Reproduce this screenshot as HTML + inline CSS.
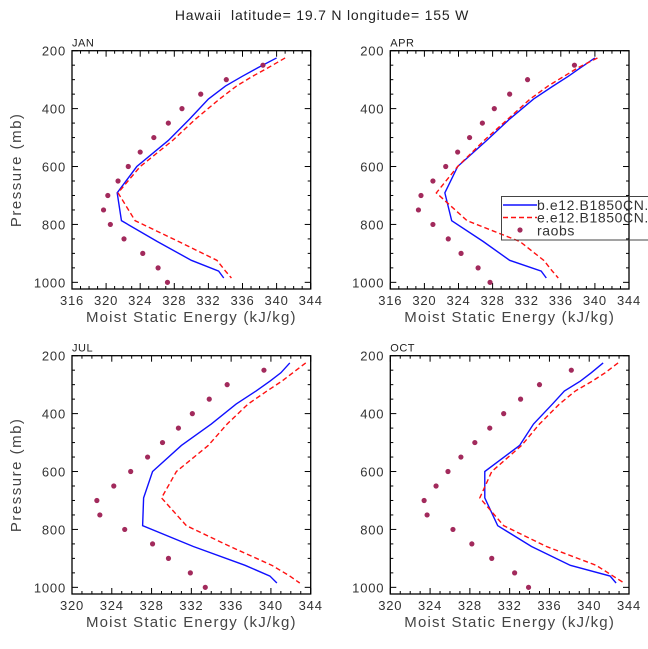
<!DOCTYPE html>
<html><head><meta charset="utf-8"><style>
html,body{margin:0;padding:0;background:#fff;}
svg{display:block;font-family:"Liberation Sans",sans-serif;}
</style></head><body>
<svg id="chart" width="648" height="649" viewBox="0 0 648 649" xmlns="http://www.w3.org/2000/svg">
<text x="322" y="20" font-size="14" text-anchor="middle" fill="#222" letter-spacing="0.8" style="white-space:pre">Hawaii  latitude= 19.7 N longitude= 155 W</text>
</svg>
<script>
const modelLevels=[225,259,288,322,367,436,510,600,691,787,859,924,961,985];
const obsLevels=[250,300,350,400,450,500,550,600,650,700,750,800,850,900,950,1000];
const pressureTicks=[200,400,600,800,1000];
const janBlue=[340,337.8,336,334,332,329.8,327.3,323.6,321.3,321.8,326,330,333.2,333.8];
const janRed=[341,339,337.2,335.3,333.3,330.5,327.8,324,321.4,323.4,328.5,333,334,334.7];
const janObs=[338.4,334.1,331.1,328.9,327.3,325.6,324.0,322.6,321.4,320.2,319.7,320.5,322.1,324.3,326.1,327.2];
const aprBlue=[340,338.3,336.9,335.1,332.8,330,327.3,323.9,322.4,323.2,326.9,330,333.7,334.3];
const aprRed=[340.3,338,336.4,334.5,332.4,329.8,327,323.9,321.4,325,331.2,334,335,335.7];
const aprObs=[337.6,332.1,330.0,328.2,326.8,325.3,323.9,322.5,321.0,319.6,319.3,321.0,322.8,324.3,326.3,327.7];
const julBlue=[341.9,341,339.9,338.5,336.5,334,331,328.1,327.2,327.1,332.2,337.4,339.9,340.6];
const julRed=[343.5,342.2,341.1,339.6,337.7,335.6,333.7,330.5,329,331.5,335.9,340.1,341.9,342.9];
const julObs=[339.3,335.6,333.8,332.1,330.7,329.1,327.6,325.9,324.2,322.5,322.8,325.3,328.1,329.7,331.9,333.4];
const octBlue=[341.4,340.2,339.1,337.5,336.3,334.4,333,329.5,329.5,330.8,334.2,338.1,342.1,342.7];
const octRed=[342.9,341.6,340.3,338.6,337,335,333.2,330.2,329,331.4,335.7,340.7,342.4,343.5];
const octObs=[338.2,335.0,333.1,331.4,330.0,328.5,327.1,325.8,324.6,323.4,323.7,326.3,328.2,330.2,332.5,333.9];
const xTicksA=[316,320,324,328,332,336,340,344];
const xTicksB=[320,324,328,332,336,340,344];

const NS='http://www.w3.org/2000/svg';
const svg=document.getElementById('chart');
function mk(tag,attrs,parent){const e=document.createElementNS(NS,tag);for(const k in attrs)e.setAttribute(k,attrs[k]);(parent||svg).appendChild(e);return e;}

function panel(key,label,L,T,xTicks,blue,red,obs,showY){
  const R=L+238.7, B=T+238.3;
  const xmin=xTicks[0], xmax=xTicks[xTicks.length-1];
  const pTop=200, pBot=1023;
  const xs=v=>L+(v-xmin)/(xmax-xmin)*(R-L);
  const ys=p=>T+(p-pTop)/(pBot-pTop)*(B-T);
  const g=mk('g',{});
  
  
  for(let v=xmin;v<=xmax;v++){
    const major=(v-xmin)%4===0, len=major?6:3, x=xs(v);
    mk('line',{x1:x,y1:B,x2:x,y2:B-len,stroke:'#000','stroke-width':1},g);
    mk('line',{x1:x,y1:T,x2:x,y2:T+len,stroke:'#000','stroke-width':1},g);
  }
  for(let p=200;p<=1000;p+=50){
    const major=p%200===0, len=major?6:3, y=ys(p);
    mk('line',{x1:L,y1:y,x2:L+len,y2:y,stroke:'#000','stroke-width':1},g);
    mk('line',{x1:R,y1:y,x2:R-len,y2:y,stroke:'#000','stroke-width':1},g);
  }
  const fr=mk('rect',{x:L,y:T,width:R-L,height:B-T,fill:'none',stroke:'#000','stroke-width':1.3},g);
  
  
  xTicks.forEach(v=>{
    const t=mk('text',{x:xs(v),y:B+16,'font-size':13,'text-anchor':'middle',fill:'#333','letter-spacing':0.8},g);
    
    
    t.textContent=v;
  });
  pressureTicks.forEach(p=>{
    const t=mk('text',{x:L-6,y:ys(p)+5,'font-size':13,'text-anchor':'end',fill:'#333','letter-spacing':0.8},g);
    
    
    t.textContent=p;
  });
  const tt=mk('text',{x:L,y:T-4,'font-size':11,fill:'#222','letter-spacing':0.5},g);
  
  
  tt.textContent=label;
  const xt=mk('text',{x:(L+R)/2,y:B+33,'font-size':15,'text-anchor':'middle',fill:'#444','letter-spacing':1.2},g);
  
  
  xt.textContent='Moist Static Energy (kJ/kg)';
  if(showY){
    const yt=mk('text',{x:0,y:0,'font-size':15,'text-anchor':'middle',fill:'#444','letter-spacing':1.5,transform:`translate(21,${(T+B)/2}) rotate(-90)`},g);
    
    
    yt.textContent='Pressure (mb)';
  }
  const bl=mk('polyline',{points:modelLevels.map((p,i)=>xs(blue[i])+','+ys(p)).join(' '),fill:'none',stroke:'#1010ff','stroke-width':1.4},g);
  
  
  const rl=mk('polyline',{points:modelLevels.map((p,i)=>xs(red[i])+','+ys(p)).join(' '),fill:'none',stroke:'#ff1010','stroke-width':1.4,'stroke-dasharray':'5,3'},g);
  
  
  obsLevels.forEach((p,i)=>{
    const c=mk('circle',{cx:xs(obs[i]),cy:ys(p),r:2.6,fill:'#a22a5c'},g);
    
    
  });
}
panel('jan','JAN',72,50.7,xTicksA,janBlue,janRed,janObs,true);
panel('apr','APR',390.3,50.7,xTicksA,aprBlue,aprRed,aprObs,false);
panel('jul','JUL',72,355.7,xTicksB,julBlue,julRed,julObs,true);
panel('oct','OCT',390.3,355.7,xTicksB,octBlue,octRed,octObs,false);

const lg=mk('g',{});


mk('rect',{x:501.5,y:196.5,width:160,height:43.5,fill:'none',stroke:'#444','stroke-width':1},lg);
mk('line',{x1:503,y1:205,x2:537,y2:205,stroke:'#1010ff','stroke-width':1.4},lg);
mk('line',{x1:503,y1:217.5,x2:537,y2:217.5,stroke:'#ff1010','stroke-width':1.4,'stroke-dasharray':'5,3'},lg);
mk('circle',{cx:520,cy:230,r:2.6,fill:'#a22a5c'},lg);
[['b.e12.B1850CN.f19','legend-entry-b',210],['e.e12.B1850CN.f19','legend-entry-e',222.5],['raobs','legend-entry-raobs',235.5]].forEach(d=>{
  const t=mk('text',{x:537,y:d[2],'font-size':14,fill:'#333','letter-spacing':0.6},lg);
  
  
  t.textContent=d[0];
});
</script>
</body></html>
